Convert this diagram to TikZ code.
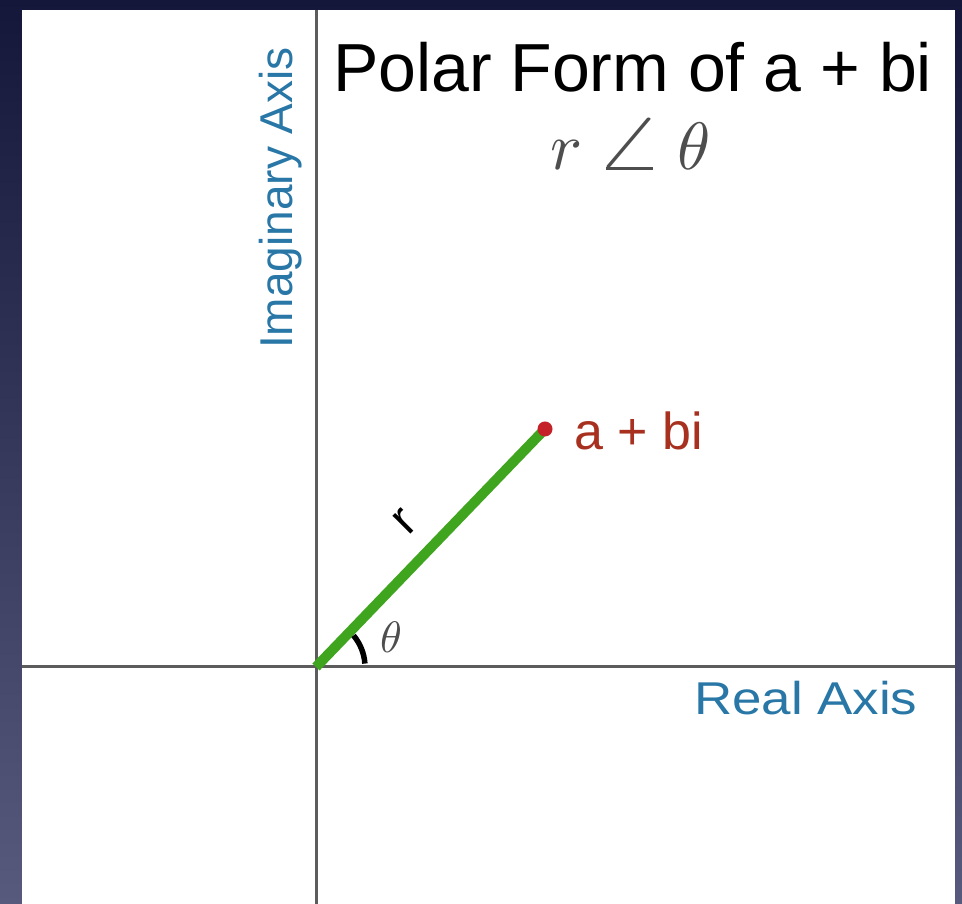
\documentclass[tikz,border=0pt]{standalone}
\usepackage{fontspec}
\setmainfont{Liberation Sans}
\usepackage{graphicx}
\definecolor{bgtop}{HTML}{15173A}
\definecolor{bgbot}{HTML}{575A7C}
\definecolor{axisgray}{HTML}{5C5C5C}
\definecolor{axisblue}{HTML}{2877A6}
\definecolor{vecgreen}{HTML}{3FA51E}
\definecolor{dotred}{HTML}{C42128}
\definecolor{textred}{HTML}{A8301F}
\definecolor{mathgray}{HTML}{4E4E4E}
\begin{document}
\begin{tikzpicture}[x=1pt,y=1pt,
  axisline/.style={draw=axisgray,line width=3pt},
  vecline/.style={draw=vecgreen,line width=10pt},
  txt/.style={inner sep=0pt,outer sep=0pt},
]
\useasboundingbox (0,0) rectangle (962,904);
\shade[top color=bgtop,bottom color=bgbot] (0,0) rectangle (962,904);
\fill[white] (22,0) rectangle (955,894);
% axes
\coordinate (ytop) at (316,894);
\coordinate (ybot) at (316,0);
\coordinate (xl) at (22,237);
\coordinate (xr) at (955,237);
\coordinate (O) at (316,237);
\coordinate (Pc) at (545,475);
\draw[axisline] (ybot) -- (ytop);
\draw[axisline] (xl) -- (xr);
% vector
\draw[vecline] (O) -- (Pc);
\node[circle,fill=dotred,minimum size=15pt,inner sep=0pt] (P) at (Pc) {};
% angle arc
\draw[line width=5.5pt] (O) ++(4:49) arc[start angle=4,end angle=40,radius=49];
% labels
\node[txt,anchor=base west,text=mathgray] (th) at (380,251) {\scalebox{4.4}{$\theta$}};
\node[txt,rotate=45,font=\fontsize{48}{50}\selectfont] (rl) at (405,382) {r};
\node[txt,anchor=base west,font=\fontsize{68}{72}\selectfont] (title) at (333,812) {Polar Form of a + bi};
\node[txt,anchor=base west,text=mathgray] (polar) at (550,734) {\scalebox{6.7}{$r\mkern3mu\mathord{\scalebox{1.7}[1.15]{$\angle$}}\mkern3mu\theta$}};
\node[txt,anchor=base west,text=textred,font=\fontsize{52}{56}\selectfont] (lbl) at (574,454) {a + bi};
\node[txt,anchor=base west,text=axisblue,font=\fontsize{46}{50}\selectfont] (re) at (694,189) {\scalebox{1.15}[1]{Real Axis}};
\node[txt,rotate=90,anchor=base,text=axisblue,font=\fontsize{46}{50}\selectfont] (im) at (292,706) {Imaginary Axis};
\end{tikzpicture}
\end{document}
